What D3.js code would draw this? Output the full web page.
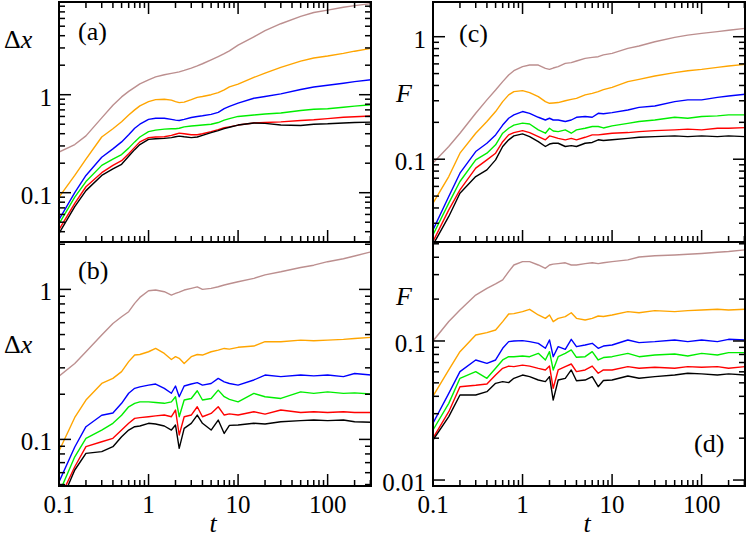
<!DOCTYPE html>
<html>
<head>
<meta charset="utf-8">
<script src="https://cdn.jsdelivr.net/npm/d3@7/dist/d3.min.js"></script>
<style>
  text, tspan { font-family: "Liberation Serif", "Times New Roman", serif !important; }
</style>
</head>
<body style="margin:0">
<script>
      var width = 747, height = 540;
      var fontName = "Times New Roman";

      // time samples (same for every curve)
      var tVals = [0.1, 0.15, 0.2, 0.3, 0.4, 0.5, 0.6, 0.7, 0.8,
                   1, 1.2, 1.5, 1.8, 2, 2.2, 2.5, 3, 3.5, 4,
                   5, 6, 7, 8, 10,
                   15, 20, 30, 50, 70, 100, 150, 200, 305];

      // panel (a): Delta x
      var aBrown  = [0.26, 0.31, 0.38, 0.58, 0.78, 0.95, 1.08, 1.19, 1.29, 1.42, 1.52, 1.6, 1.65, 1.68, 1.71, 1.77, 1.87, 1.97, 2.07, 2.27, 2.45, 2.62, 2.8, 3.2, 3.9, 4.5, 5.3, 6.3, 6.9, 7.3, 7.8, 8.1, 8.5];
      var aOrange = [0.09, 0.15, 0.22, 0.37, 0.45, 0.53, 0.62, 0.70, 0.77, 0.85, 0.89, 0.90, 0.88, 0.85, 0.83, 0.84, 0.89, 0.94, 0.96, 1.0, 1.05, 1.12, 1.2, 1.28, 1.5, 1.66, 1.9, 2.2, 2.37, 2.48, 2.64, 2.78, 2.97];
      var aBlue   = [0.053, 0.1, 0.15, 0.23, 0.28, 0.33, 0.39, 0.455, 0.50, 0.56, 0.575, 0.575, 0.56, 0.55, 0.545, 0.56, 0.585, 0.6, 0.61, 0.63, 0.66, 0.72, 0.76, 0.82, 0.92, 0.96, 1.02, 1.13, 1.2, 1.25, 1.31, 1.36, 1.42];
      var aGreen  = [0.048, 0.09, 0.13, 0.19, 0.22, 0.245, 0.285, 0.33, 0.37, 0.42, 0.435, 0.445, 0.45, 0.45, 0.455, 0.47, 0.48, 0.485, 0.49, 0.5, 0.52, 0.55, 0.57, 0.6, 0.62, 0.635, 0.65, 0.69, 0.71, 0.72, 0.745, 0.765, 0.79];
      var aRed    = [0.042, 0.078, 0.115, 0.16, 0.19, 0.212, 0.25, 0.29, 0.33, 0.365, 0.37, 0.372, 0.385, 0.395, 0.405, 0.40, 0.39, 0.39, 0.40, 0.42, 0.44, 0.46, 0.47, 0.49, 0.515, 0.52, 0.528, 0.545, 0.555, 0.57, 0.588, 0.595, 0.606];
      var aBlack  = [0.0385, 0.072, 0.105, 0.15, 0.175, 0.195, 0.235, 0.275, 0.31, 0.35, 0.355, 0.358, 0.365, 0.372, 0.378, 0.372, 0.365, 0.37, 0.385, 0.41, 0.43, 0.45, 0.465, 0.49, 0.515, 0.51, 0.49, 0.485, 0.5, 0.505, 0.515, 0.52, 0.525];

      // panel (b): Delta x
      var bBrown  = [0.264, 0.321, 0.384, 0.496, 0.593, 0.657, 0.71, 0.807, 0.884, 0.98, 0.99, 0.965, 0.917, 0.94, 0.96, 0.99, 1.016, 1.04, 1.0, 1.016, 1.042, 1.069, 1.09, 1.125, 1.184, 1.25, 1.31, 1.40, 1.45, 1.53, 1.6, 1.67, 1.78];
      var bOrange = [0.0836, 0.14, 0.183, 0.236, 0.255, 0.283, 0.33, 0.365, 0.368, 0.384, 0.404, 0.374, 0.341, 0.356, 0.347, 0.321, 0.356, 0.368, 0.365, 0.384, 0.394, 0.404, 0.40, 0.411, 0.419, 0.448, 0.448, 0.459, 0.455, 0.459, 0.464, 0.471, 0.479];
      var bBlue   = [0.052, 0.089, 0.1215, 0.145, 0.15, 0.174, 0.203, 0.219, 0.224, 0.23, 0.234, 0.219, 0.203, 0.227, 0.1925, 0.227, 0.234, 0.239, 0.23, 0.236, 0.255, 0.242, 0.236, 0.23, 0.249, 0.2685, 0.262, 0.2685, 0.265, 0.2685, 0.262, 0.275, 0.2685];
      var bGreen  = [0.0437, 0.0766, 0.1016, 0.1154, 0.128, 0.145, 0.165, 0.174, 0.178, 0.178, 0.176, 0.174, 0.178, 0.1925, 0.1416, 0.183, 0.1875, 0.211, 0.183, 0.1875, 0.213, 0.1925, 0.185, 0.178, 0.2026, 0.1925, 0.1875, 0.2074, 0.2026, 0.2074, 0.2026, 0.2043, 0.2006];
      var bRed    = [0.0394, 0.0657, 0.0894, 0.0965, 0.1016, 0.1154, 0.128, 0.138, 0.1396, 0.1416, 0.1435, 0.1453, 0.1416, 0.157, 0.107, 0.1416, 0.1453, 0.165, 0.1416, 0.149, 0.165, 0.1453, 0.148, 0.1453, 0.1528, 0.1474, 0.157, 0.151, 0.1528, 0.151, 0.1528, 0.151, 0.151];
      var bBlack  = [0.0356, 0.0625, 0.0807, 0.0829, 0.0894, 0.1042, 0.1154, 0.1215, 0.1228, 0.128, 0.1266, 0.1228, 0.1154, 0.1247, 0.0871, 0.1184, 0.128, 0.1453, 0.128, 0.1154, 0.1346, 0.1096, 0.124, 0.1247, 0.128, 0.1266, 0.1312, 0.1333, 0.1346, 0.1333, 0.1346, 0.1312, 0.1302];

      // panel (c): F
      var cBrown  = [0.093, 0.127, 0.163, 0.237, 0.305, 0.367, 0.43, 0.487, 0.528, 0.57, 0.587, 0.587, 0.552, 0.541, 0.555, 0.57, 0.606, 0.614, 0.633, 0.666, 0.678, 0.687, 0.71, 0.731, 0.803, 0.84, 0.91, 0.988, 1.03, 1.065, 1.1, 1.13, 1.17];
      var cOrange = [0.0438, 0.0722, 0.112, 0.163, 0.203, 0.245, 0.295, 0.335, 0.356, 0.363, 0.35, 0.324, 0.295, 0.286, 0.288, 0.29, 0.30, 0.308, 0.314, 0.335, 0.345, 0.356, 0.37, 0.386, 0.43, 0.449, 0.478, 0.509, 0.528, 0.541, 0.562, 0.576, 0.595];
      var cBlue   = [0.0265, 0.0496, 0.0769, 0.1155, 0.135, 0.158, 0.19, 0.216, 0.23, 0.245, 0.237, 0.22, 0.209, 0.216, 0.209, 0.209, 0.203, 0.209, 0.22, 0.223, 0.22, 0.237, 0.235, 0.24, 0.252, 0.265, 0.272, 0.295, 0.305, 0.305, 0.32, 0.328, 0.339];
      var cGreen  = [0.0242, 0.0438, 0.0658, 0.0988, 0.112, 0.131, 0.163, 0.179, 0.19, 0.197, 0.194, 0.1735, 0.163, 0.179, 0.17, 0.168, 0.1735, 0.163, 0.1735, 0.179, 0.185, 0.185, 0.18, 0.187, 0.196, 0.203, 0.209, 0.22, 0.216, 0.223, 0.226, 0.23, 0.23];
      var cRed    = [0.0213, 0.0386, 0.0562, 0.0845, 0.0988, 0.112, 0.139, 0.158, 0.165, 0.171, 0.165, 0.153, 0.144, 0.155, 0.152, 0.148, 0.144, 0.148, 0.144, 0.151, 0.158, 0.158, 0.16, 0.163, 0.165, 0.168, 0.171, 0.1735, 0.176, 0.1735, 0.179, 0.179, 0.181];
      var cBlack  = [0.020, 0.0341, 0.0528, 0.0722, 0.0819, 0.0988, 0.127, 0.144, 0.155, 0.161, 0.153, 0.139, 0.127, 0.133, 0.135, 0.135, 0.127, 0.129, 0.127, 0.135, 0.137, 0.144, 0.142, 0.144, 0.148, 0.151, 0.153, 0.155, 0.153, 0.155, 0.153, 0.155, 0.153];

      // panel (d): F
      var dBrown  = [0.1, 0.138, 0.167, 0.214, 0.239, 0.257, 0.275, 0.315, 0.352, 0.372, 0.372, 0.352, 0.333, 0.352, 0.357, 0.36, 0.365, 0.352, 0.352, 0.36, 0.365, 0.36, 0.365, 0.372, 0.383, 0.402, 0.41, 0.415, 0.42, 0.426, 0.435, 0.44, 0.452];
      var dOrange = [0.0402, 0.0619, 0.0838, 0.1105, 0.1148, 0.12, 0.1377, 0.1564, 0.1572, 0.1625, 0.169, 0.1538, 0.1455, 0.1538, 0.1377, 0.1455, 0.1496, 0.1597, 0.1455, 0.1416, 0.1455, 0.1513, 0.15, 0.1538, 0.1625, 0.1597, 0.1652, 0.1625, 0.1652, 0.167, 0.169, 0.167, 0.169];
      var dBlue   = [0.0256, 0.042, 0.0602, 0.073, 0.069, 0.073, 0.0886, 0.0989, 0.1, 0.1006, 0.0989, 0.0962, 0.0886, 0.1017, 0.0771, 0.091, 0.0871, 0.1028, 0.091, 0.0936, 0.0962, 0.0886, 0.092, 0.0936, 0.1017, 0.0973, 0.0989, 0.1017, 0.0989, 0.1017, 0.0989, 0.1028, 0.1017];
      var dGreen  = [0.0229, 0.0356, 0.0539, 0.0602, 0.0539, 0.0636, 0.073, 0.0771, 0.0771, 0.078, 0.0771, 0.0815, 0.073, 0.0838, 0.0619, 0.0771, 0.0815, 0.0862, 0.0763, 0.0771, 0.0838, 0.073, 0.076, 0.0771, 0.0815, 0.0771, 0.0793, 0.0806, 0.078, 0.0815, 0.0793, 0.0824, 0.0824];
      var dRed    = [0.020, 0.031, 0.0469, 0.048, 0.049, 0.0569, 0.0636, 0.066, 0.0654, 0.0671, 0.066, 0.0636, 0.0619, 0.066, 0.0457, 0.0619, 0.0654, 0.0683, 0.0602, 0.0619, 0.066, 0.0586, 0.062, 0.0619, 0.0654, 0.0636, 0.0647, 0.0636, 0.0654, 0.0647, 0.0654, 0.0636, 0.0654];
      var dBlack  = [0.0194, 0.0286, 0.0409, 0.0409, 0.0432, 0.0496, 0.051, 0.0502, 0.0539, 0.0569, 0.0554, 0.0524, 0.051, 0.0554, 0.0376, 0.0524, 0.0539, 0.0619, 0.0518, 0.0524, 0.0554, 0.0469, 0.052, 0.0524, 0.056, 0.0539, 0.0554, 0.0569, 0.0586, 0.058, 0.0569, 0.058, 0.0569];

      var seriesColors = ["#bc8f8f", "#ffa500", "#0000ff", "#00ee00", "#ff0000", "#000000"];

      var xDomain  = [0.1, 305];
      var xLabels  = [0.1, 1, 10, 100];
      var yDomainA = [0.0314, 8.83];
      var yDomainB = [0.0489, 2.07];
      var yDomainC = [0.0211, 1.92];
      var yDomainD = [0.00906, 0.515];

      var panels = [
        { tag: "(a)", dom: yDomainA, data: [aBrown, aOrange, aBlue, aGreen, aRed, aBlack], col: 0, row: 0,
          yLabels: [0.1, 1], name: "dx", namePos: [4, 48], tagPos: [78, 40] },
        { tag: "(b)", dom: yDomainB, data: [bBrown, bOrange, bBlue, bGreen, bRed, bBlack], col: 0, row: 1,
          yLabels: [0.1, 1], name: "dx", namePos: [4, 353], tagPos: [78, 279] },
        { tag: "(c)", dom: yDomainC, data: [cBrown, cOrange, cBlue, cGreen, cRed, cBlack], col: 1, row: 0,
          yLabels: [0.1, 1], name: "F", namePos: [396, 102], tagPos: [459, 42] },
        { tag: "(d)", dom: yDomainD, data: [dBrown, dOrange, dBlue, dGreen, dRed, dBlack], col: 1, row: 1,
          yLabels: [0.01, 0.1], name: "F", namePos: [396, 305], tagPos: [694, 452] }
      ];

      var colX = [[59, 371], [433, 745]];
      var rowY = [[2, 242], [242, 486]];

      var svg = d3.select("body").append("svg")
          .attr("width", width)
          .attr("height", height);

      function isMajor(v) {
        var l = Math.log10(v);
        return Math.abs(l - Math.round(l)) < 1e-6;
      }
      function fmt(v) { return String(+v.toPrecision(3)); }

      // tick marks pointing into the plot, drawn from the scales
      function ticks(vals, scale, len, side, at) {
        vals.forEach(function(v) {
          var p = scale(v);
          var l = svg.append("line").attr("stroke", "#000").attr("stroke-width", 1.5);
          if (side == "bottom") l.attr("x1", p).attr("x2", p).attr("y1", at).attr("y2", at - len);
          if (side == "top")    l.attr("x1", p).attr("x2", p).attr("y1", at).attr("y2", at + len);
          if (side == "left")   l.attr("y1", p).attr("y2", p).attr("x1", at).attr("x2", at + len);
          if (side == "right")  l.attr("y1", p).attr("y2", p).attr("x1", at).attr("x2", at - len);
        });
      }

      function txt(x, y, size) {
        return svg.append("text")
          .attr("x", x).attr("y", y)
          .attr("font-family", fontName)
          .attr("font-size", size)
          .attr("fill", "#000");
      }

      panels.forEach(function(p, i) {
        var x0 = colX[p.col][0], x1 = colX[p.col][1];
        var y0 = rowY[p.row][0], y1 = rowY[p.row][1];

        var x = d3.scaleLog().domain(xDomain).range([x0, x1]);
        var y = d3.scaleLog().domain(p.dom).range([y1, y0]);

        var xMajor = x.ticks().filter(isMajor);
        var xMinor = x.ticks().filter(function(v) { return !isMajor(v); });
        var yMajor = y.ticks().filter(isMajor);
        var yMinor = y.ticks().filter(function(v) { return !isMajor(v); });

        svg.append("clipPath").attr("id", "clip" + i)
          .append("rect")
            .attr("x", x0).attr("y", y0)
            .attr("width", x1 - x0).attr("height", y1 - y0);

        // curves
        var line = d3.line()
            .x(function(d) { return x(d[0]); })
            .y(function(d) { return y(d[1]); });

        var g = svg.append("g").attr("clip-path", "url(#clip" + i + ")");
        p.data.forEach(function(vals, k) {
          var pts = tVals.map(function(t, j) { return [t, vals[j]]; });
          g.append("path")
            .attr("d", line(pts))
            .attr("fill", "none")
            .attr("stroke", seriesColors[k])
            .attr("stroke-width", 1.4)
            .attr("stroke-linejoin", "round");
        });

        ticks(xMajor, x, 12, "bottom", y1);
        ticks(xMinor, x, 6, "bottom", y1);
        if (p.row == 0) {
          ticks(xMajor, x, 12, "top", y0);
          ticks(xMinor, x, 6, "top", y0);
        }
        ticks(yMajor, y, 12, "left", x0);
        ticks(yMinor, y, 6, "left", x0);
        ticks(yMajor, y, 12, "right", x1);
        ticks(yMinor, y, 6, "right", x1);

        // frame
        svg.append("rect")
          .attr("x", x0).attr("y", y0)
          .attr("width", x1 - x0).attr("height", y1 - y0)
          .attr("fill", "none")
          .attr("stroke", "#000")
          .attr("stroke-width", 2);

        // tick labels
        if (p.row == 1) {
          xLabels.forEach(function(v) {
            txt(x(v), y1 + 27, 25)
              .attr("text-anchor", "middle")
              .text(fmt(v));
          });
        }
        p.yLabels.forEach(function(v) {
          txt(x0 - 7, y(v) + 11, 25)
            .attr("text-anchor", "end")
            .text(fmt(v));
        });

        // axis names and panel tags
        var nm = txt(p.namePos[0], p.namePos[1], 26);
        if (p.name == "dx") {
          nm.append("tspan").text("\u0394");
          nm.append("tspan").attr("font-style", "italic").text("x");
        } else {
          nm.append("tspan").attr("font-style", "italic").text("F");
        }

        txt(p.tagPos[0], p.tagPos[1], 26).text(p.tag);

        if (p.row == 1) {
          txt((x0 + x1) / 2 - 2, 532, 26)
            .attr("font-style", "italic")
            .attr("text-anchor", "middle")
            .text("t");
        }
      });
</script>
</body>
</html>
